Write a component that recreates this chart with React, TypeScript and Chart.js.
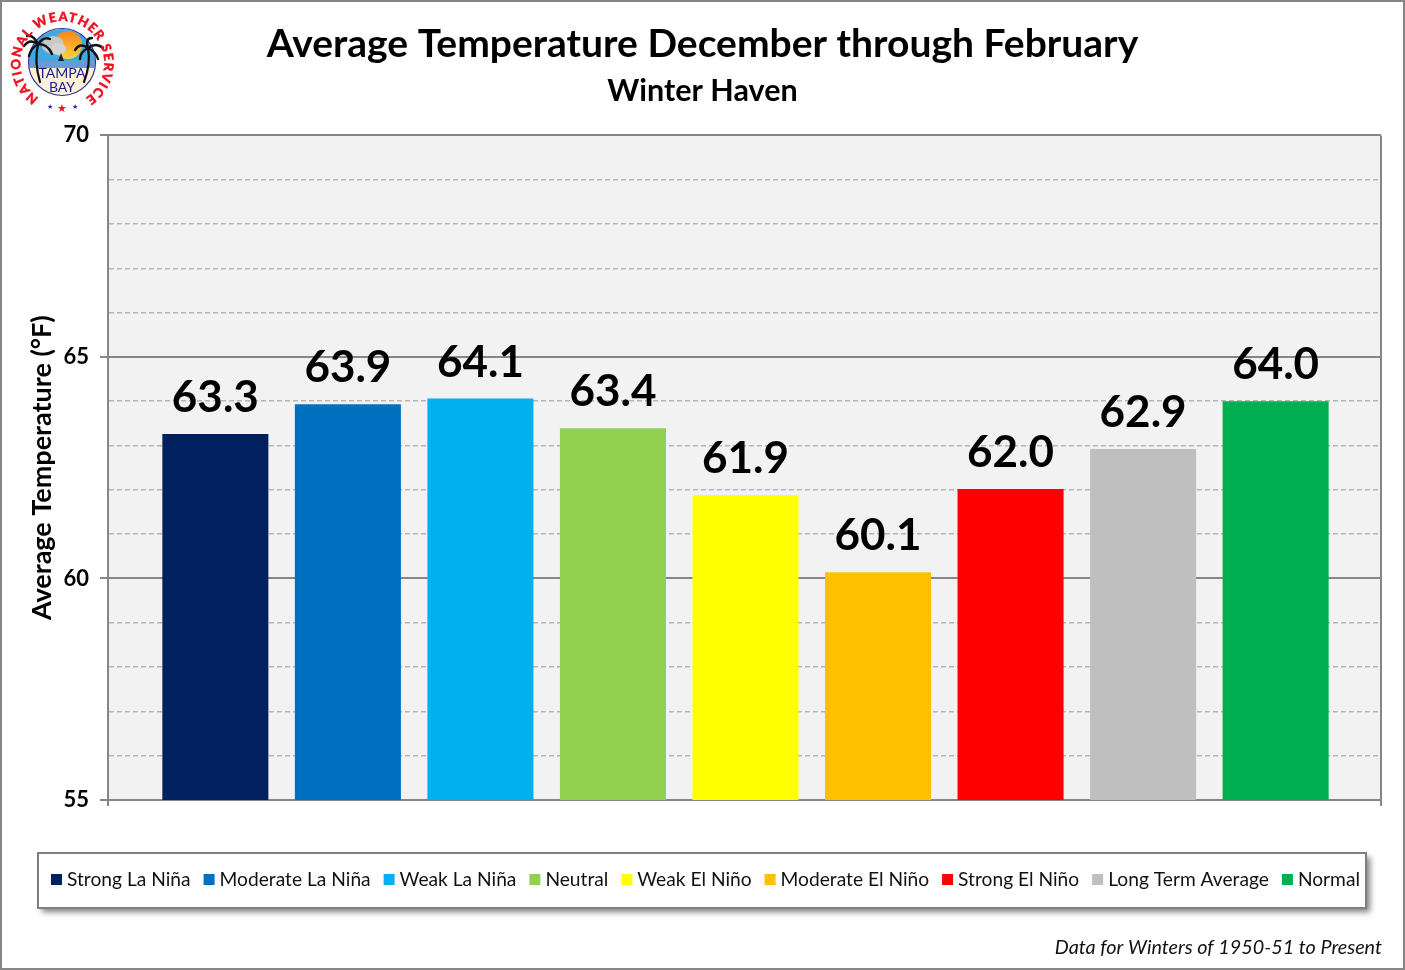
import { Chart, registerables } from "chart.js";
import React, { useEffect, useRef } from "react";

Chart.register(...registerables);

const categories = [
  "Strong La Niña",
  "Moderate La Niña",
  "Weak La Niña",
  "Neutral",
  "Weak El Niño",
  "Moderate El Niño",
  "Strong El Niño",
  "Long Term Average",
  "Normal",
];
const temps = [63.26, 63.93, 64.06, 63.39, 61.88, 60.14, 62.02, 62.92, 64.0];
const barColors = ["#002060", "#0070C0", "#00B0F0", "#92D050", "#FFFF00", "#FFC000", "#FF0000", "#BFBFBF", "#00B050"];

const FONT = "Lato";
const GREY = "#868686";
const X_MIN = -0.81;
const X_MAX = 8.795;

// value labels above the bars, plot background, legend box and footnote
const decorations = {
  id: "decorations",
  beforeDraw(chart: any) {
    const { ctx, chartArea: a } = chart;
    ctx.save();
    ctx.fillStyle = "#F2F2F2";
    ctx.fillRect(a.left, a.top, a.right - a.left, a.bottom - a.top);
    ctx.restore();
  },
  afterDraw(chart: any) {
    const { ctx, width, height } = chart;
    ctx.save();

    // outer frame
    ctx.strokeStyle = GREY;
    ctx.lineWidth = 2;
    ctx.strokeRect(1, 1, width - 2, height - 2);

    // value labels
    ctx.fillStyle = "#000";
    ctx.font = `bold 44px ${FONT}`;
    ctx.textAlign = "center";
    ctx.textBaseline = "alphabetic";
    chart.getDatasetMeta(0).data.forEach((bar: any, i: number) => {
      ctx.fillText(temps[i].toFixed(1), bar.x, bar.y - 22);
    });

    // legend box
    ctx.save();
    ctx.shadowColor = "rgba(0,0,0,0.5)";
    ctx.shadowBlur = 6;
    ctx.shadowOffsetX = 4;
    ctx.shadowOffsetY = 4;
    ctx.fillStyle = "#fff";
    ctx.fillRect(38, 853, 1328, 55);
    ctx.restore();
    ctx.strokeStyle = "#7F7F7F";
    ctx.lineWidth = 2;
    ctx.strokeRect(38, 853, 1328, 55);

    // legend items
    ctx.font = `19.2px ${FONT}`;
    ctx.textAlign = "left";
    let x = 51;
    categories.forEach((name, i) => {
      ctx.fillStyle = barColors[i];
      ctx.fillRect(x, 874, 11, 11);
      ctx.fillStyle = "#111";
      ctx.fillText(name, x + 16, 886);
      x += 16 + ctx.measureText(name).width + 13;
    });

    // footnote
    ctx.font = `italic 19.8px ${FONT}`;
    ctx.textAlign = "right";
    ctx.fillStyle = "#111";
    ctx.fillText("Data for Winters of 1950-51 to Present", 1382, 954);
    ctx.restore();
  },
};

const Logo = () => (
  <svg
    width={110}
    height={112}
    viewBox="0 0 110 112"
    style={{ position: "absolute", left: 8, top: 6 }}
  >
    <defs>
      <clipPath id="inner">
        <circle cx={54} cy={56} r={33} />
      </clipPath>
      <linearGradient id="sun" x1="0" y1="0" x2="0" y2="1">
        <stop offset="0" stopColor="#F7851D" />
        <stop offset="1" stopColor="#FFD23F" />
      </linearGradient>
      <path id="ring" d="M 31 92 A 42 42 0 1 1 79 91" fill="none" />
    </defs>
    <g clipPath="url(#inner)">
      <rect x={20} y={20} width={70} height={36} fill="#3FA9E0" />
      <rect x={20} y={55} width={70} height={8} fill="#6C9BD2" />
      <rect x={20} y={62} width={70} height={30} fill="#FDF1D8" />
      <circle cx={60} cy={39} r={14} fill="url(#sun)" />
      <ellipse cx={45} cy={39} rx={11} ry={9} fill="#C8C8C8" />
      <ellipse cx={50} cy={43} rx={8} ry={6} fill="#D4D4D4" />
      <path d="M 50 55 L 53 47 L 56 55 Z" fill="#222" />
    </g>
    <circle cx={54} cy={56} r={33.5} fill="none" stroke="#2E3192" strokeWidth={1.2} />
    <g stroke="#111" fill="none" strokeLinecap="round">
      <path d="M 32 76 Q 26 56 30 38" strokeWidth={2.2} />
      <path d="M 30 38 Q 22 32 16 40 M 30 38 Q 25 28 19 30 M 30 38 Q 36 30 42 33 M 30 38 Q 40 38 44 48 M 30 38 Q 23 42 21 50" strokeWidth={2.4} />
      <path d="M 76 76 Q 83 58 80 42" strokeWidth={2.2} />
      <path d="M 80 42 Q 72 36 67 44 M 80 42 Q 77 32 84 32 M 80 42 Q 88 36 95 42 M 80 42 Q 88 46 90 53 M 80 42 Q 72 46 72 53" strokeWidth={2.4} />
    </g>
    <text x={54} y={72} textAnchor="middle" fontFamily={FONT} fontSize={14} fill="#1B1C8C">
      TAMPA
    </text>
    <text x={54} y={86} textAnchor="middle" fontFamily={FONT} fontSize={14} fill="#1B1C8C">
      BAY
    </text>
    <text
      fontFamily={FONT}
      fontWeight={900}
      fontSize={13}
      fill="#F01020"
      stroke="#F01020"
      strokeWidth={0.4}
      letterSpacing={1.15}
    >
      <textPath href="#ring" startOffset="0">
        NATIONAL WEATHER SERVICE
      </textPath>
    </text>
    <text x={42} y={103} textAnchor="middle" fontSize={7} fill="#1B1CC0">★</text>
    <text x={54} y={106} textAnchor="middle" fontSize={11} fill="#F01020">★</text>
    <text x={67} y={103} textAnchor="middle" fontSize={7} fill="#1B1CC0">★</text>
  </svg>
);

const App: React.FC = () => {
  const chartRef = useRef<HTMLCanvasElement | null>(null);

  useEffect(() => {
    if (!chartRef.current) return;
    const chart = new Chart(chartRef.current, {
      type: "bar",
      data: {
        datasets: [
          {
            label: "Average Temperature",
            data: temps.map((t, i) => ({ x: i, y: t })),
            backgroundColor: barColors,
            barPercentage: 0.8,
            categoryPercentage: 1,
          },
        ],
      },
      plugins: [decorations],
      options: {
        responsive: false,
        animation: false,
        devicePixelRatio: 1,
        layout: { padding: { left: 24, right: 24, top: 0, bottom: 0 } },
        plugins: {
          legend: { display: false },
          tooltip: { enabled: false },
          title: {
            display: true,
            text: "Average Temperature December through February",
            color: "#000",
            font: { family: FONT, size: 39, weight: "bold" },
            padding: { top: 21, bottom: 0 },
          },
          subtitle: {
            display: true,
            text: "Winter Haven",
            color: "#000",
            font: { family: FONT, size: 30.5, weight: "bold" },
            padding: { top: 5, bottom: 26 },
          },
        },
        scales: {
          x: {
            type: "linear",
            min: X_MIN,
            max: X_MAX,
            offset: false,
            // only the two ends of the axis carry a tick
            afterBuildTicks: (scale: any) => {
              scale.ticks = [{ value: X_MIN }, { value: X_MAX }];
            },
            afterFit: (scale: any) => {
              scale.height = 170;
            },
            ticks: { display: false },
            border: { color: GREY, width: 2 },
            grid: { offset: false, lineWidth: 2, tickLength: 6, color: GREY, tickColor: GREY },
          },
          y: {
            min: 55,
            max: 70,
            afterFit: (scale: any) => {
              scale.width = 84;
            },
            title: {
              display: true,
              text: "Average Temperature (°F)",
              color: "#000",
              font: { family: FONT, size: 27, weight: "bold" },
              padding: { top: 2, bottom: 0 },
            },
            ticks: {
              stepSize: 1,
              padding: 11,
              color: "#000",
              font: { family: FONT, size: 22, weight: "bold" },
              autoSkip: false,
              callback: (v: any) => (Number(v) % 5 === 0 ? String(v) : ""),
            },
            border: {
              color: GREY,
              width: 2,
              dash: (c: any) => (c.tick && c.tick.value % 5 === 0 ? [] : [5, 3]),
            },
            grid: {
              tickLength: 8,
              color: (c: any) => (c.tick && c.tick.value % 5 === 0 ? GREY : "#B4B4B4"),
              lineWidth: (c: any) => (c.tick && c.tick.value % 5 === 0 ? 2 : 1.5),
              tickColor: (c: any) => (c.tick && c.tick.value % 5 === 0 ? GREY : "transparent"),
            },
          },
        },
      },
    } as any);
    return () => chart.destroy();
  }, []);

  return (
    <div style={{ position: "absolute", left: 0, top: 0, width: 1405, height: 970, background: "#fff" }}>
      <canvas ref={chartRef} width={1405} height={970} style={{ display: "block" }} />
      <Logo />
    </div>
  );
};

export default App;
